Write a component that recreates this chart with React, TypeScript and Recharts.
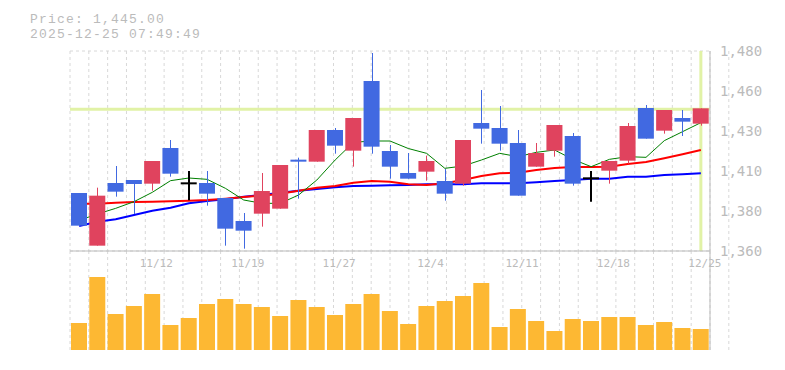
import { Bar, BarChart, CartesianGrid, ComposedChart, Line, ReferenceLine, XAxis, YAxis } from "recharts";

const dates = [
  "11/6", "11/7", "11/10", "11/11", "11/12", "11/13", "11/14", "11/17", "11/18", "11/19",
  "11/20", "11/21", "11/24", "11/25", "11/27", "11/28", "12/1", "12/2", "12/3", "12/4",
  "12/5", "12/8", "12/9", "12/10", "12/11", "12/12", "12/15", "12/16", "12/17", "12/18",
  "12/19", "12/22", "12/23", "12/24", "12/25",
];
const opens = [
  1394.8, 1363.2, 1400.8, 1402.6, 1400.4, 1421.8, 1400.6, 1400.8, 1391.8, 1378,
  1382.4, 1385.4, 1414.8, 1413.6, 1432.6, 1420.2, 1462, 1420, 1406.8, 1407.6,
  1402, 1400.4, 1436.8, 1433.8, 1424.8, 1410.6, 1420.2, 1429, 1403.6, 1408.2,
  1414.2, 1445.8, 1432.2, 1439.8, 1436.4,
];
const highs = [
  1394.8, 1398, 1411, 1402.6, 1414, 1426.6, 1408, 1408, 1391.8, 1382.8,
  1406.8, 1411.6, 1416, 1432.6, 1433.8, 1439.8, 1478.8, 1423.6, 1418.8, 1417.2,
  1409.2, 1426.6, 1456.6, 1447, 1432.6, 1424.8, 1435.6, 1430.8, 1408, 1414,
  1436.8, 1447.6, 1444.6, 1444.6, 1445.6,
];
const lows = [
  1375.2, 1363.2, 1392.6, 1382.2, 1396.2, 1404.6, 1390.4, 1387.2, 1363.2, 1361.4,
  1374.6, 1385.4, 1391.4, 1413.6, 1418.4, 1410.6, 1418.4, 1403.4, 1403.4, 1402.2,
  1390.2, 1399.2, 1424.4, 1420.2, 1393.2, 1410.6, 1416.6, 1399.2, 1389.6, 1400.4,
  1412.4, 1427.4, 1430.4, 1429, 1435.2,
];
const closes = [
  1375.2, 1393.2, 1395.6, 1400.2, 1414, 1406.4, 1400.6, 1394.4, 1373.4, 1372.2,
  1396, 1411.6, 1413.6, 1432.6, 1423.2, 1439.8, 1422.6, 1410.6, 1403.4, 1414,
  1394.4, 1426.6, 1433.4, 1424.4, 1393.2, 1418.8, 1435.6, 1400.4, 1403.6, 1414,
  1435, 1427.4, 1444.6, 1437.6, 1445.6,
];
const ma5 = [
  1378.4, 1382.2, 1385.6, 1389.6, 1395.2, 1402.2, 1403.8, 1403, 1397.6, 1390.6,
  1388.6, 1388.6, 1393.6, 1402.6, 1414.6, 1425.2, 1426, 1426, 1421.5, 1418.6,
  1409.6, 1411, 1414.6, 1418.6, 1416.6, 1419.2, 1420.6, 1415, 1410.6, 1415,
  1416.6, 1416.2, 1426.2, 1431.6, 1437,
];
const ma20 = [
  1388.4, 1388.4, 1389, 1389.4, 1389.6, 1389.8, 1390.2, 1390.6, 1391.4, 1392.4,
  1393.2, 1394.4, 1396.2, 1398, 1399, 1401, 1402, 1401.6, 1400, 1399.6,
  1400.6, 1402.6, 1405, 1406.6, 1407, 1408.6, 1409.8, 1410.4, 1410.4, 1410.6,
  1412.2, 1413.4, 1415.6, 1418, 1420.6,
];
const ma60 = [
  1375, 1377.6, 1379, 1381.6, 1384.2, 1386, 1388.6, 1390, 1391, 1392.6,
  1393.6, 1395, 1396.2, 1397.2, 1398.2, 1399, 1399.2, 1399.4, 1399.6, 1400,
  1400, 1400, 1400.6, 1400.6, 1400.6, 1401.2, 1402, 1402.6, 1403.4, 1403.4,
  1404.6, 1404.6, 1405.6, 1406, 1406.6,
];
const volumes = [
  27, 73, 36, 44, 56, 25, 32, 46, 51, 46,
  43, 34, 50, 43, 35, 46, 56, 39, 26, 44,
  49, 54, 67, 23, 41, 29, 19, 31, 29, 33,
  33, 25, 28, 22, 21,
];
const dateTicks = ["11/12", "11/19", "11/27", "12/4", "12/11", "12/18", "12/25"];
const priceTicks = [1360, 1384, 1408, 1432, 1456, 1480];

const lastPrice = 1445;
const lastDate = "12/25";
const titleLines = ["Price: 1,445.00", "2025-12-25 07:49:49"];

// square dotted grid: one column per candle, 11 rows
const gridCols = Array.from({ length: dates.length + 1 }, (_, i) => i);
const gridRows = Array.from({ length: 12 }, (_, i) => i);

const RED = "#e0435e";
const BLUE = "#4169e1";
const GRAY = "#bbbbbb";
const GRID = "#d8d8d8";
const MONO = "'DejaVu Sans Mono', monospace";

const rows = dates.map((date, i) => ({
  date,
  open: opens[i],
  high: highs[i],
  low: lows[i],
  close: closes[i],
  range: [lows[i], highs[i]],
  ma5: ma5[i],
  ma20: ma20[i],
  ma60: ma60[i],
  volume: volumes[i],
}));

const fmtPrice = (v: number) => (Math.round(v / 10) * 10).toLocaleString("en-US");

function Candle(props: any) {
  const { x, y, width, height, payload } = props;
  if (!payload) return null;
  const top = Math.min(y, y + height);
  const h = Math.abs(height);
  const { open, close, high, low } = payload;
  const py = (v: number) => top + ((high - v) / (high - low || 1)) * h;
  const cx = Math.round(x + width / 2);

  if (open === close) {
    const yc = py(open);
    return (
      <g>
        <line x1={cx} x2={cx} y1={top} y2={top + h} stroke="#000" strokeWidth={2} />
        <line x1={x} x2={x + width} y1={yc} y2={yc} stroke="#000" strokeWidth={2} />
      </g>
    );
  }

  const color = close > open ? RED : BLUE;
  const bodyTop = py(Math.max(open, close));
  const bodyBottom = py(Math.min(open, close));
  return (
    <g>
      <line x1={cx + 0.5} x2={cx + 0.5} y1={top} y2={top + h} stroke={color} strokeWidth={1} />
      <rect x={x} y={bodyTop} width={width} height={Math.max(1, bodyBottom - bodyTop)} fill={color} />
    </g>
  );
}

export default function App() {
  return (
    <div style={{ position: "absolute", left: 0, top: 0, width: 785, height: 370, background: "#fff" }}>
      {titleLines.map((t, i) => (
        <div
          key={t}
          style={{
            position: "absolute",
            left: 30,
            top: 12 + i * 15,
            height: 15,
            fontFamily: "'Liberation Mono', monospace",
            fontSize: 13,
            letterSpacing: 1.2,
            lineHeight: "15px",
            color: GRAY,
            whiteSpace: "pre",
          }}
        >
          {t}
        </div>
      ))}

      <div style={{ position: "absolute", left: 0, top: 0 }}>
        <BarChart
          width={785}
          height={370}
          data={rows}
          margin={{ top: 251, right: 74, left: 70, bottom: 20 }}
          barCategoryGap={0}
        >
          <XAxis xAxisId="g" type="number" domain={[0, dates.length]} ticks={gridCols} interval={0} hide />
          <XAxis
            xAxisId="d"
            dataKey="date"
            height={0}
            tick={false}
            tickLine={false}
            axisLine={{ stroke: GRAY }}
          />
          <YAxis
            yAxisId="v"
            orientation="right"
            domain={[0, 99]}
            width={1}
            tick={false}
            tickLine={false}
            axisLine={{ stroke: GRAY }}
          />
          <CartesianGrid xAxisId="g" yAxisId="v" horizontal={false} stroke={GRID} strokeDasharray="3 3" />
          <Bar
            xAxisId="d"
            yAxisId="v"
            dataKey="volume"
            fill="#fdb833"
            barSize={16}
            isAnimationActive={false}
          />
        </BarChart>
      </div>

      <div style={{ position: "absolute", left: 0, top: 0 }}>
        <ComposedChart
          width={785}
          height={370}
          data={rows}
          margin={{ top: 51, right: 0, left: 70, bottom: 99 }}
        >
          <XAxis xAxisId="g" type="number" domain={[0, dates.length]} ticks={gridCols} interval={0} hide />
          <YAxis yAxisId="g" type="number" domain={[0, 11]} ticks={gridRows} interval={0} hide />
          <CartesianGrid xAxisId="g" yAxisId="g" stroke={GRID} strokeDasharray="3 3" />
          <XAxis
            xAxisId="d"
            dataKey="date"
            ticks={dateTicks}
            interval={0}
            height={20}
            tickLine={false}
            axisLine={{ stroke: GRAY }}
            tick={{ fill: GRAY, fontSize: 11, fontFamily: MONO, dx: 4 }}
          />
          <YAxis
            yAxisId="p"
            orientation="right"
            width={75}
            domain={[1360, 1480]}
            ticks={priceTicks}
            interval={0}
            tickFormatter={fmtPrice}
            tickLine={false}
            tickMargin={4}
            axisLine={{ stroke: GRAY }}
            tick={{ fill: GRAY, fontSize: 14, fontFamily: MONO }}
            allowDataOverflow
          />
          <ReferenceLine xAxisId="d" yAxisId="p" y={lastPrice} stroke="#e1f2a6" strokeWidth={3} />
          <ReferenceLine xAxisId="d" yAxisId="p" x={lastDate} stroke="#e1f2a6" strokeWidth={3} />
          <Line xAxisId="d" yAxisId="p" dataKey="ma60" stroke="#0000ff" strokeWidth={2} dot={false} isAnimationActive={false} />
          <Line xAxisId="d" yAxisId="p" dataKey="ma20" stroke="#ff0000" strokeWidth={2} dot={false} isAnimationActive={false} />
          <Line xAxisId="d" yAxisId="p" dataKey="ma5" stroke="#008000" strokeWidth={1} dot={false} isAnimationActive={false} />
          <Bar
            xAxisId="d"
            yAxisId="p"
            dataKey="range"
            barSize={16}
            shape={Candle}
            zIndex={500}
            isAnimationActive={false}
          />
        </ComposedChart>
      </div>
    </div>
  );
}
